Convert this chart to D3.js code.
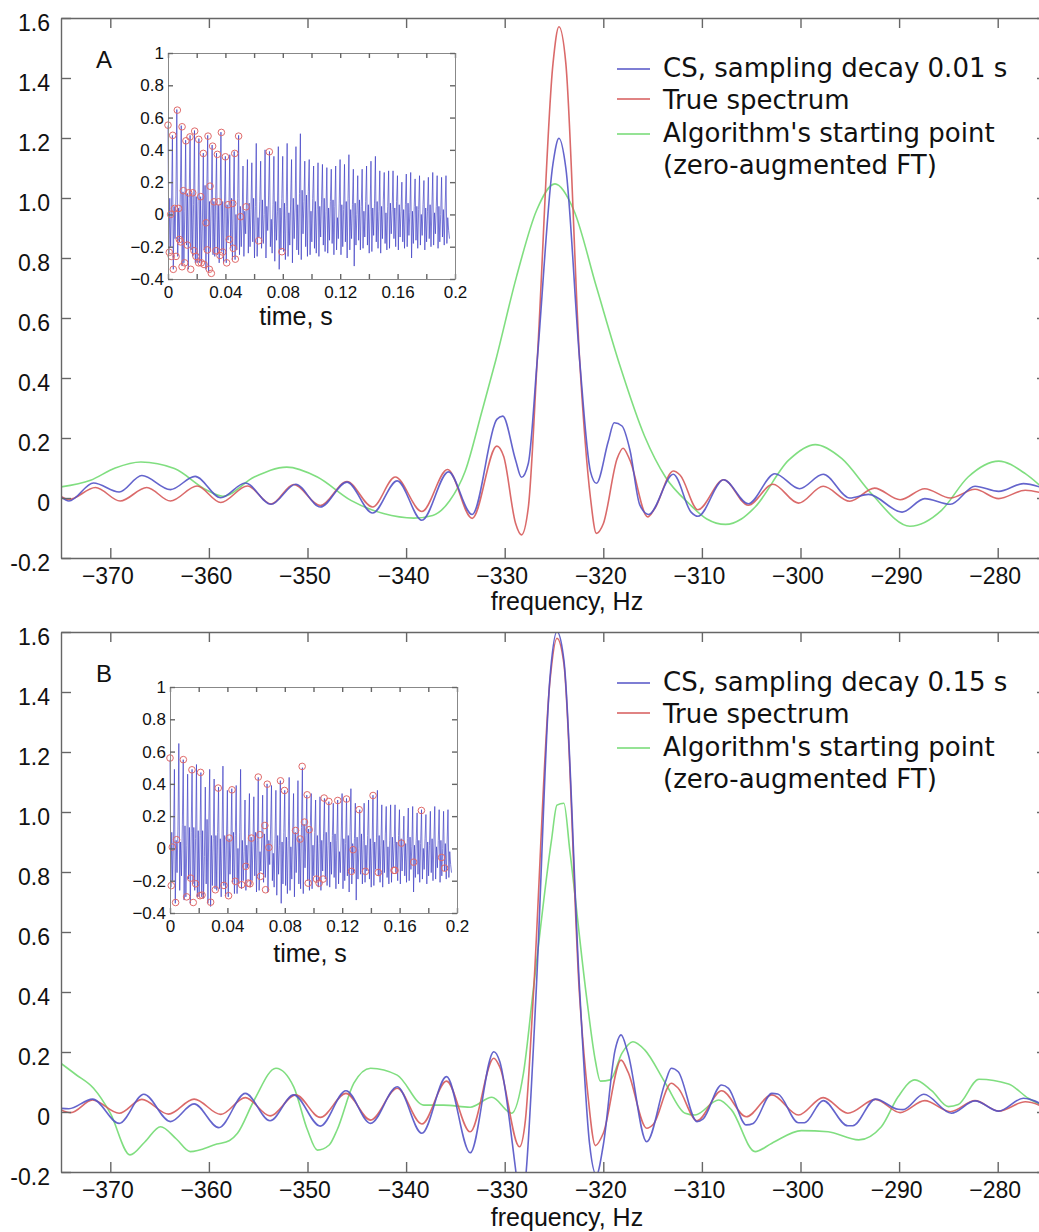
<!DOCTYPE html>
<html>
<head>
<meta charset="utf-8">
<script src="https://cdn.jsdelivr.net/npm/d3@7"></script>
<style>
  body { margin: 0; background: #fff; }
</style>
</head>
<body>
<div id="chart-area"></div>
<script>
const freqTicks = [-370, -360, -350, -340, -330, -320, -310, -300, -290, -280];
const specYTicks = [-0.2, 0, 0.2, 0.4, 0.6, 0.8, 1.0, 1.2, 1.4, 1.6];
const specYLabels = ["-0.2", "0", "0.2", "0.4", "0.6", "0.8", "1.0", "1.2", "1.4", "1.6"];
const insetXTicks = [0, 0.02, 0.04, 0.06, 0.08, 0.1, 0.12, 0.14, 0.16, 0.18, 0.2];
const insetXLabels = ["0", "", "0.04", "", "0.08", "", "0.12", "", "0.16", "", "0.2"];
const insetYTicks = [-0.4, -0.2, 0, 0.2, 0.4, 0.6, 0.8, 1];
const insetYLabels = ["\u22120.4", "\u22120.2", "0", "0.2", "0.4", "0.6", "0.8", "1"];
const legendA = ["CS, sampling decay 0.01 s", "True spectrum", "Algorithm's starting point", "(zero-augmented FT)"];
const legendB = ["CS, sampling decay 0.15 s", "True spectrum", "Algorithm's starting point", "(zero-augmented FT)"];

// spectra, [frequency Hz, amplitude]
const aCS = [[-375,0.003],[-374.2,-0.01],[-371.7,0.05],[-369.1,0.02],[-366.8,0.075],[-363.9,0.028],[-361.4,0.072],[-358.8,0.001],[-356.3,0.05],[-353.7,-0.021],[-351.2,0.046],[-348.7,-0.03],[-346,0.053],[-343.4,-0.05],[-340.9,0.057],[-338.4,-0.074],[-335.7,0.087],[-333.3,-0.055],[-330.8,0.262],[-330.2,0.273],[-328.9,0.127],[-328.3,0.069],[-327.6,0.116],[-326.7,0.46],[-325.1,1.115],[-324.5,1.199],[-323.8,1.1],[-322.4,0.46],[-321.3,0.088],[-320.7,0.049],[-319.5,0.188],[-318.9,0.251],[-318.1,0.24],[-317.3,0.16],[-316.3,-0.023],[-315.4,-0.055],[-312.9,0.079],[-311.1,-0.047],[-310.4,-0.061],[-307.8,0.061],[-305.3,-0.019],[-302.6,0.081],[-300.1,0.031],[-297.7,0.079],[-295,0.0],[-293.1,0.012],[-289.7,-0.047],[-287.4,-0.002],[-284.8,-0.021],[-282.3,0.039],[-279.9,0.022],[-277.4,0.048],[-275,0.028]];
const aTrue = [[-375,0.005],[-374.2,-0.005],[-371.5,0.035],[-369,-0.01],[-366.3,0.035],[-363.9,-0.01],[-361.2,0.04],[-358.8,-0.015],[-356.1,0.04],[-353.7,-0.02],[-351.4,0.045],[-348.7,-0.025],[-346,0.055],[-343.4,-0.03],[-341.1,0.07],[-338.4,-0.045],[-335.8,0.095],[-333.3,-0.068],[-330.8,0.173],[-330.1,0.138],[-328.9,-0.084],[-328.3,-0.123],[-327.6,-0.03],[-326.7,0.46],[-325.1,1.449],[-324.5,1.571],[-323.8,1.449],[-322.4,0.46],[-321.3,0.0],[-320.7,-0.118],[-320.0,-0.086],[-318.6,0.131],[-318.0,0.166],[-317.3,0.126],[-315.5,-0.063],[-314.8,-0.036],[-312.9,0.09],[-312.2,0.076],[-310.4,-0.039],[-307.8,0.061],[-305.3,-0.024],[-302.8,0.046],[-300.2,-0.017],[-297.7,0.039],[-295,-0.011],[-292.5,0.033],[-289.9,-0.006],[-287.4,0.031],[-284.8,0.0],[-282.3,0.029],[-279.9,-0.002],[-277.2,0.026],[-275,0.012]];
const aStart = [[-375,0.037],[-372,0.059],[-369.5,0.1],[-366.9,0.12],[-363.5,0.098],[-360.2,0.026],[-358.6,0.006],[-355.4,0.07],[-352.1,0.103],[-349,0.07],[-345.6,-0.008],[-342.3,-0.052],[-339.2,-0.067],[-337.3,-0.058],[-335.6,-0.01],[-334,0.09],[-332.3,0.29],[-330.9,0.46],[-328.8,0.738],[-326.75,0.96],[-324.9,1.047],[-323.0,0.96],[-320.7,0.704],[-318.3,0.44],[-315.8,0.205],[-313.7,0.07],[-311.3,-0.019],[-309.5,-0.07],[-307.6,-0.088],[-306,-0.07],[-304.6,-0.03],[-301.2,0.126],[-298.5,0.178],[-295.8,0.131],[-292.8,0.014],[-288.9,-0.094],[-285.7,-0.041],[-283,0.07],[-279.9,0.123],[-277.2,0.081],[-275,0.02]];

const bCS = [[-375,0.012],[-374.2,0.011],[-371.8,0.043],[-369.1,-0.038],[-366.6,0.059],[-363.9,-0.032],[-361.5,0.027],[-359,-0.052],[-356.3,0.062],[-353.8,-0.029],[-351.4,0.057],[-348.7,-0.047],[-346.1,0.071],[-343.6,-0.038],[-340.9,0.084],[-338.4,-0.071],[-335.9,0.118],[-333.5,-0.136],[-331.1,0.201],[-330.5,0.168],[-328.9,-0.19],[-328.3,-0.35],[-327.8,-0.19],[-326.8,0.407],[-325.4,1.451],[-324.7,1.601],[-324.0,1.507],[-322.4,0.407],[-321.4,-0.104],[-320.7,-0.21],[-320,-0.11],[-318.8,0.207],[-318.2,0.257],[-317.5,0.196],[-315.6,-0.099],[-313.7,0.101],[-313.1,0.146],[-312.4,0.134],[-310.5,-0.032],[-309.9,-0.024],[-308,0.09],[-307.3,0.079],[-305.5,-0.043],[-304.8,-0.038],[-302.9,0.062],[-302.3,0.06],[-300.2,-0.036],[-299.6,-0.036],[-297.7,0.038],[-295.2,-0.046],[-294.7,-0.046],[-292.4,0.043],[-290.1,0.009],[-289.6,0.008],[-287.5,0.059],[-284.7,-0.004],[-282.3,0.037],[-279.9,0.003],[-277.4,0.046],[-275,0.015]];
const bTrue = [[-375,0.007],[-374,-0.002],[-371.8,0.04],[-369.1,-0.004],[-366.8,0.042],[-364.1,-0.007],[-361.5,0.043],[-358.8,-0.008],[-356.3,0.048],[-353.8,-0.013],[-351.2,0.057],[-348.7,-0.018],[-346.1,0.062],[-343.6,-0.027],[-340.9,0.079],[-338.4,-0.04],[-335.9,0.103],[-333.5,-0.066],[-331.1,0.179],[-330.5,0.15],[-328.5,-0.116],[-327.9,-0.027],[-327.1,0.384],[-325.4,1.44],[-324.7,1.579],[-324.0,1.495],[-322.4,0.384],[-321.6,0.07],[-320.8,-0.112],[-320,-0.071],[-318.2,0.173],[-317.5,0.134],[-315.6,-0.054],[-314.9,-0.04],[-313.1,0.096],[-312.4,0.079],[-310.5,-0.029],[-308,0.071],[-305.5,-0.016],[-302.9,0.057],[-300.2,-0.01],[-297.7,0.048],[-295.2,-0.004],[-292.4,0.042],[-289.9,-0.002],[-287.4,0.038],[-284.8,0.001],[-282.3,0.038],[-279.9,0.003],[-277.2,0.034],[-275,0.012]];
const bStart = [[-375,0.162],[-373.5,0.125],[-371.7,0.079],[-370,-0.004],[-368,-0.143],[-366.5,-0.1],[-364.9,-0.049],[-363.3,-0.09],[-361.9,-0.132],[-359.2,-0.107],[-357.9,-0.095],[-357.1,-0.071],[-355.4,0.04],[-353.2,0.146],[-351.4,0.084],[-350,-0.06],[-349,-0.127],[-347.8,-0.11],[-347,-0.06],[-345.3,0.096],[-343.6,0.146],[-340.9,0.123],[-338.2,0.023],[-336.2,0.023],[-333.5,0.016],[-331.3,0.049],[-329.3,-0.004],[-328.1,0.129],[-327.1,0.407],[-325.25,0.907],[-324.7,1.023],[-324.0,1.029],[-323.4,0.873],[-321.7,0.384],[-320.8,0.17],[-320.3,0.103],[-319.3,0.107],[-318.1,0.196],[-317,0.234],[-315.8,0.207],[-313.7,0.096],[-311.7,-0.004],[-310.7,-0.01],[-308.3,0.04],[-307,0.007],[-304.6,-0.132],[-302.9,-0.104],[-299.9,-0.062],[-297.2,-0.066],[-294.1,-0.093],[-291.8,-0.049],[-290.1,0.051],[-288.4,0.107],[-286.7,0.071],[-285,0.018],[-284,0.025],[-281.9,0.109],[-278.9,0.093],[-276.9,0.046],[-275,0.015]];

// time signal (inset), one sample every fidDt seconds
const fidDt = 0.000615;
const fidSignal = [
  0.55,-0.24,0.10,-0.20,0.05,  0.49,-0.34,0.05,-0.15,0.12,  0.65,-0.26,0.04,-0.17,0.15,  0.55,-0.32,0.14,-0.30,0.02,
  0.46,-0.19,0.13,-0.34,0.10,  0.49,-0.22,0.13,-0.26,0.06,  0.52,-0.30,0.11,-0.30,0.08,  0.47,-0.30,0.11,-0.31,-0.05,
  0.38,-0.22,0.18,-0.34,0.17,  0.49,-0.36,0.08,-0.23,0.06,  0.43,-0.25,0.08,-0.26,0.10,  0.38,-0.25,0.06,-0.30,0.07,
  0.51,-0.23,0.08,-0.30,0.06,  0.36,-0.30,0.06,-0.16,0.04,  0.37,-0.21,0.10,-0.28,0.08,  0.39,-0.28,0.00,-0.22,0.10,
  0.49,-0.25,0.05,-0.20,-0.02, 0.30,-0.26,0.02,-0.12,0.09,  0.34,-0.24,0.07,-0.20,0.03,  0.32,-0.17,0.10,-0.27,0.05,
  0.44,-0.26,-0.02,-0.14,0.08, 0.33,-0.21,0.09,-0.18,0.00,  0.40,-0.27,0.05,-0.10,0.12,  0.39,-0.20,-0.03,-0.24,0.06,
  0.36,-0.29,0.08,-0.16,0.02,  0.42,-0.34,0.04,-0.22,0.10,  0.36,-0.23,0.07,-0.28,0.05,  0.44,-0.26,0.01,-0.19,0.09,
  0.34,-0.30,0.10,-0.15,0.04,  0.42,-0.22,0.06,-0.25,0.13,  0.50,-0.28,0.15,-0.12,0.08,  0.33,-0.20,0.12,-0.26,0.14,
  0.34,-0.25,0.02,-0.17,0.10,  0.30,-0.21,0.08,-0.24,0.03,  0.32,-0.26,0.05,-0.14,0.09,  0.31,-0.19,0.10,-0.23,0.02,
  0.29,-0.24,0.04,-0.16,0.08,  0.28,-0.18,0.09,-0.25,0.05,  0.30,-0.22,-0.02,-0.15,0.07, 0.34,-0.25,0.06,-0.20,0.03,
  0.31,-0.17,0.08,-0.27,0.10,  0.37,-0.22,0.03,-0.15,0.06,  0.28,-0.32,0.07,-0.19,0.00,  0.24,-0.16,0.09,-0.22,0.05,
  0.28,-0.21,0.02,-0.14,0.08,  0.30,-0.19,0.06,-0.24,0.03,  0.33,-0.23,0.04,-0.13,0.07,  0.36,-0.17,0.08,-0.21,0.02,
  0.27,-0.24,0.05,-0.15,0.09,  0.26,-0.18,0.01,-0.22,0.05,  0.27,-0.21,0.07,-0.12,0.03,  0.27,-0.15,0.04,-0.20,0.08,
  0.24,-0.22,0.06,-0.14,0.02,  0.20,-0.17,0.03,-0.21,0.06,  0.25,-0.20,0.07,-0.13,0.01,  0.26,-0.27,0.02,-0.18,0.05,
  0.22,-0.16,0.05,-0.21,0.03,  0.24,-0.19,0.00,-0.13,0.06,  0.21,-0.22,0.04,-0.17,0.02,  0.23,-0.15,0.06,-0.20,0.04,
  0.26,-0.19,0.01,-0.12,0.05,  0.24,-0.21,0.05,-0.17,0.00,  0.23,-0.14,0.03,-0.19,0.04,  0.24,-0.18,-0.02,-0.10,-0.15
];

// sampled points, [time s, value]
const samplesA = [[0,0.553],[0.0019,0.0],[0.0009,-0.235],[0.0023,-0.26],[0.0033,0.49],[0.0037,-0.34],[0.0046,0.037],[0.0056,-0.26],[0.0065,0.646],[0.0074,0.037],[0.0079,-0.155],[0.0088,-0.17],[0.0098,0.543],[0.0098,-0.324],[0.0107,0.147],[0.0116,-0.30],[0.0125,0.456],[0.0135,-0.19],[0.0144,0.134],[0.0153,0.48],[0.0158,-0.34],[0.0172,0.134],[0.0181,-0.225],[0.0186,0.516],[0.0195,-0.26],[0.0214,0.465],[0.0214,-0.30],[0.0228,0.11],[0.0232,-0.30],[0.0246,0.378],[0.0251,-0.31],[0.0265,-0.052],[0.0274,-0.22],[0.0279,0.485],[0.0288,-0.34],[0.0293,0.175],[0.0302,-0.365],[0.0311,0.423],[0.0321,0.078],[0.0335,-0.225],[0.0344,0.372],[0.0353,0.078],[0.0362,-0.254],[0.0372,0.508],[0.0381,-0.233],[0.0400,0.357],[0.0409,-0.30],[0.0418,0.06],[0.0427,-0.155],[0.0451,0.068],[0.0455,-0.21],[0.0465,0.378],[0.0469,-0.277],[0.0492,0.485],[0.0506,-0.014],[0.0544,0.047],[0.0632,-0.163],[0.0706,0.388],[0.0794,-0.231]];
const samplesB = [[0,0.56],[0.0016,0.008],[0.0009,-0.23],[0.0046,0.054],[0.0039,-0.335],[0.0093,0.55],[0.0116,-0.30],[0.0144,-0.184],[0.0153,0.487],[0.0162,-0.335],[0.0179,-0.219],[0.0209,-0.293],[0.0213,0.471],[0.0223,-0.289],[0.0283,-0.333],[0.0316,-0.256],[0.0336,0.374],[0.0376,-0.229],[0.0408,-0.293],[0.0413,0.064],[0.0432,0.363],[0.0455,-0.204],[0.0499,-0.225],[0.0529,-0.111],[0.0545,-0.215],[0.0557,-0.219],[0.0568,0.064],[0.0615,0.442],[0.0626,0.085],[0.0631,-0.173],[0.0661,0.142],[0.0666,-0.256],[0.0678,0.398],[0.0689,0.006],[0.0770,0.419],[0.0798,0.359],[0.0875,0.111],[0.0907,0.058],[0.0921,0.508],[0.0937,0.163],[0.0956,0.332],[0.0963,-0.215],[0.0970,0.116],[0.1021,-0.19],[0.1039,-0.215],[0.1067,-0.19],[0.1074,0.312],[0.1107,0.291],[0.1169,0.297],[0.1230,0.306],[0.1265,-0.142],[0.1276,-0.008],[0.1318,0.24],[0.1362,-0.142],[0.1415,0.328],[0.1452,-0.149],[0.1561,-0.136],[0.1568,-0.136],[0.1613,0.033],[0.1698,-0.085],[0.1752,0.235],[0.1893,-0.056],[0.1914,-0.122]];

const colors = { cs: "#5353c6", truth: "#d65a5a", start: "#72da72" };

let svgW = 1039;
let svgH = 1232;
let mainFont = "'Liberation Sans', Arial, Helvetica, sans-serif";
let legendFont = "'DejaVu Sans', Verdana, sans-serif";

let svg = d3.select("#chart-area")
  .append("svg")
  .attr("width", svgW)
  .attr("height", svgH)
  .style("font-family", mainFont)

let panels = [
  { name: "A", top: 18, series: [aStart, aTrue, aCS], legend: legendA, freqLabelY: 610,
    inset: { x0: 168, x1: 455, y0: 53, y1: 279, labelX: 296, labelY: 325 }, samples: samplesA },
  { name: "B", top: 632, series: [bStart, bTrue, bCS], legend: legendB, freqLabelY: 1226,
    inset: { x0: 170, x1: 457, y0: 687, y1: 913, labelX: 310, labelY: 962 }, samples: samplesB }
];

const styleAxis = (sel, size) => {
  sel.attr("font-size", size).attr("font-family", mainFont);
  sel.selectAll("path, line").attr("stroke", "#666").attr("stroke-width", 1.4);
  sel.selectAll("text").attr("fill", "#111");
}

const drawPanel = (p) => {
  let x = d3.scaleLinear().domain([-375, -275]).range([61, 1047]);
  let y = d3.scaleLinear().domain([-0.2, 1.6]).range([p.top + 540, p.top]);
  let g = svg.append("g");

  g.append("clipPath").attr("id", "clip" + p.name)
    .append("rect")
    .attr("x", x(-375)).attr("y", y(1.6))
    .attr("width", x(-275) - x(-375)).attr("height", y(-0.2) - y(1.6));

  let line = d3.line()
    .x(d => x(d[0]))
    .y(d => y(d[1]))
    .curve(d3.curveMonotoneX);

  let seriesColors = [colors.start, colors.truth, colors.cs];
  p.series.forEach((s, i) => {
    g.append("path")
      .datum(s)
      .attr("clip-path", `url(#clip${p.name})`)
      .attr("fill", "none")
      .attr("stroke", seriesColors[i])
      .attr("stroke-width", 1.6)
      .attr("stroke-opacity", 0.9)
      .attr("d", line);
  });

  let bottom = g.append("g")
    .attr("transform", `translate(0,${y(-0.2)})`)
    .call(d3.axisBottom(x).tickValues(freqTicks).tickSize(-10).tickSizeOuter(0).tickPadding(10)
      .tickFormat(d => "\u2212" + Math.abs(d)));
  styleAxis(bottom, 23);
  bottom.selectAll("text").attr("dx", -3);

  let top = g.append("g")
    .attr("transform", `translate(0,${y(1.6)})`)
    .call(d3.axisTop(x).tickValues(freqTicks).tickSize(-10).tickSizeOuter(0).tickFormat(() => ""));
  styleAxis(top, 23);

  let left = g.append("g")
    .attr("transform", `translate(${x(-375)},0)`)
    .call(d3.axisLeft(y).tickValues(specYTicks).tickSize(-10).tickSizeOuter(0).tickPadding(11)
      .tickFormat((d, i) => specYLabels[i]));
  styleAxis(left, 23);
  left.selectAll("text").attr("dy", "0.56em");

  let right = g.append("g")
    .attr("transform", `translate(${x(-275)},0)`)
    .call(d3.axisRight(y).tickValues(specYTicks).tickSize(-10).tickSizeOuter(0).tickFormat(() => ""));
  styleAxis(right, 23);

  g.append("text")
    .attr("x", 567)
    .attr("y", p.freqLabelY)
    .attr("text-anchor", "middle")
    .attr("font-size", 25)
    .attr("fill", "#111")
    .text("frequency, Hz");

  g.append("text")
    .attr("x", 96)
    .attr("y", p.top + 50)
    .attr("font-size", 24)
    .attr("fill", "#111")
    .text(p.name);

  // legend
  let lg = g.append("g").attr("font-family", legendFont).attr("font-size", 26);
  let rowBase = [59, 91, 124, 156];
  let lineY = [51, 81, 116];
  lineY.forEach((ly, i) => {
    lg.append("line")
      .attr("x1", 617).attr("x2", 650)
      .attr("y1", p.top + ly).attr("y2", p.top + ly)
      .attr("stroke", [colors.cs, colors.truth, colors.start][i])
      .attr("stroke-width", 1.6);
  });
  p.legend.forEach((t, i) => {
    lg.append("text")
      .attr("x", 663)
      .attr("y", p.top + rowBase[i])
      .attr("fill", "#111")
      .text(t);
  });

  drawInset(g, p);
}

const drawInset = (g, p) => {
  let b = p.inset;
  let xi = d3.scaleLinear().domain([0, 0.2]).range([b.x0, b.x1]);
  let yi = d3.scaleLinear().domain([-0.4, 1]).range([b.y1, b.y0]);
  let ig = g.append("g");

  ig.append("rect")
    .attr("x", b.x0).attr("y", b.y0)
    .attr("width", b.x1 - b.x0).attr("height", b.y1 - b.y0)
    .attr("fill", "#fff");

  ig.append("path")
    .datum(fidSignal)
    .attr("fill", "none")
    .attr("stroke", "#3c3cc4")
    .attr("stroke-width", 0.8)
    .attr("stroke-opacity", 0.85)
    .attr("d", d3.line().x((d, i) => xi(i * fidDt)).y(d => yi(d)));

  ig.selectAll("circle")
    .data(p.samples)
    .enter()
    .append("circle")
    .attr("cx", d => xi(d[0]))
    .attr("cy", d => yi(d[1]))
    .attr("r", 3.3)
    .attr("fill", "none")
    .attr("stroke", "#e06a6a")
    .attr("stroke-width", 1);

  let ib = ig.append("g")
    .attr("transform", `translate(0,${b.y1})`)
    .call(d3.axisBottom(xi).tickValues(insetXTicks).tickSize(-5).tickSizeOuter(0).tickPadding(7)
      .tickFormat((d, i) => insetXLabels[i]));
  styleAxis(ib, 17);

  let it = ig.append("g")
    .attr("transform", `translate(0,${b.y0})`)
    .call(d3.axisTop(xi).tickValues(insetXTicks).tickSize(-5).tickSizeOuter(0).tickFormat(() => ""));
  styleAxis(it, 17);

  let il = ig.append("g")
    .attr("transform", `translate(${b.x0},0)`)
    .call(d3.axisLeft(yi).tickValues(insetYTicks).tickSize(-5).tickSizeOuter(0).tickPadding(4)
      .tickFormat((d, i) => insetYLabels[i]));
  styleAxis(il, 17);

  let ir = ig.append("g")
    .attr("transform", `translate(${b.x1},0)`)
    .call(d3.axisRight(yi).tickValues(insetYTicks).tickSize(-5).tickSizeOuter(0).tickFormat(() => ""));
  styleAxis(ir, 17);

  ig.selectAll(".domain").attr("stroke", "#888").attr("stroke-width", 1);

  ig.append("text")
    .attr("x", b.labelX)
    .attr("y", b.labelY)
    .attr("text-anchor", "middle")
    .attr("font-size", 25)
    .attr("fill", "#111")
    .text("time, s");
}

panels.forEach(drawPanel);
</script>
</body>
</html>
